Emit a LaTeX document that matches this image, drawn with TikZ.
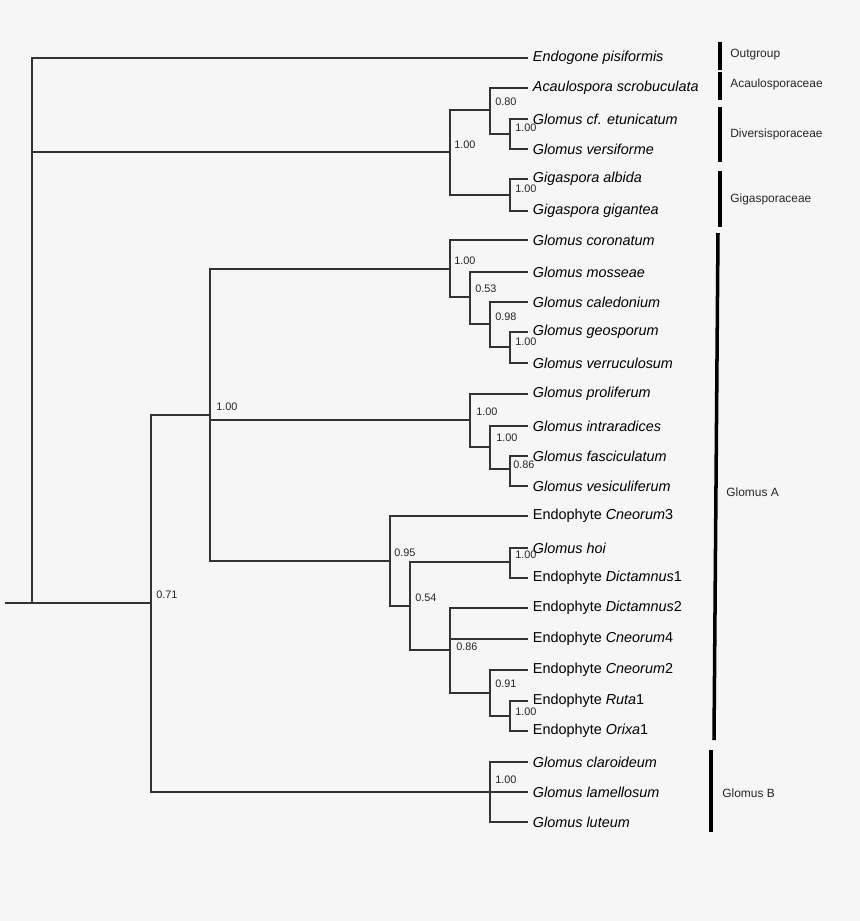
\documentclass[tikz,border=0pt]{standalone}
\usepackage{fontspec}
\setmainfont{Liberation Sans}
\usetikzlibrary{positioning}
\tikzset{
    leaf/.style = {anchor=west, inner ysep=1pt, inner xsep=2.6pt, font=\fontsize{8.2}{9}\selectfont\itshape, text=black},
    leafe/.style = {anchor=west, inner ysep=1pt, inner xsep=2.6pt, font=\fontsize{8.2}{9}\selectfont, text=black},
    supp/.style = {anchor=west, inner sep=0pt, font=\fontsize{6.2}{7}\selectfont, text=black!85},
    clade/.style = {anchor=west, inner sep=0pt, font=\fontsize{6.8}{8}\selectfont, text=black!85},
    branch/.style = {-, line width=0.75pt, black!80},
    bar/.style = {-, line width=2pt, black},
}
\newcommand{\I}[1]{\textit{#1}}

\begin{document}
\begin{tikzpicture}[x=0.02cm, y=-0.02cm]
\fill[gray!7] (0,0) rectangle (860,921);
\useasboundingbox (0,0) rectangle (860,921);

% leaves
\node[leaf] at (528, 58) (endo) {Endogone pisiformis};
\node[leaf] at (528, 88) (acau) {Acaulospora scrobuculata};
\node[leaf] at (528,119) (etun) {Glomus cf. etunicatum};
\node[leaf] at (528,149) (vers) {Glomus versiforme};
\node[leaf] at (528,179) (galb) {Gigaspora albida};
\node[leaf] at (528,211) (ggig) {Gigaspora gigantea};
\node[leaf] at (528,240) (coro) {Glomus coronatum};
\node[leaf] at (528,272) (moss) {Glomus mosseae};
\node[leaf] at (528,302) (cale) {Glomus caledonium};
\node[leaf] at (528,332) (geos) {Glomus geosporum};
\node[leaf] at (528,363) (verr) {Glomus verruculosum};
\node[leaf] at (528,394) (prol) {Glomus proliferum};
\node[leaf] at (528,426) (intr) {Glomus intraradices};
\node[leaf] at (528,456) (fasc) {Glomus fasciculatum};
\node[leaf] at (528,486) (vesi) {Glomus vesiculiferum};
\node[leafe] at (528,516) (cne3) {Endophyte \I{Cneorum}3};
\node[leaf] at (528,548) (hoi) {Glomus hoi};
\node[leafe] at (528,578) (dic1) {Endophyte \I{Dictamnus}1};
\node[leafe] at (528,608) (dic2) {Endophyte \I{Dictamnus}2};
\node[leafe] at (528,639) (cne4) {Endophyte \I{Cneorum}4};
\node[leafe] at (528,670) (cne2) {Endophyte \I{Cneorum}2};
\node[leafe] at (528,701) (ruta) {Endophyte \I{Ruta}1};
\node[leafe] at (528,731) (orix) {Endophyte \I{Orixa}1};
\node[leaf] at (528,762) (clar) {Glomus claroideum};
\node[leaf] at (528,792) (lame) {Glomus lamellosum};
\node[leaf] at (528,822) (lute) {Glomus luteum};

% internal nodes
\coordinate (stem) at (5,603);
\coordinate (root) at (32,603);
\coordinate (aml) at (450,152);
\coordinate (acd) at (490,110);
\coordinate (dvs) at (510,134);
\coordinate (gig) at (510,195);
\coordinate (glo) at (151,603);
\coordinate (gla) at (210,415);
\coordinate (mos) at (450,269);
\coordinate (m53) at (470,297);
\coordinate (m98) at (490,324);
\coordinate (geo) at (510,347);
\coordinate (pro) at (470,420);
\coordinate (int) at (490,447);
\coordinate (fas) at (510,469);
\coordinate (n95) at (390,561);
\coordinate (n54) at (410,606);
\coordinate (hoin) at (510,562);
\coordinate (n86) at (450,650);
\coordinate (n91) at (490,693);
\coordinate (rut) at (510,716);
\coordinate (glb) at (490,792);

% branches
\draw[branch] (stem) -- (root);
\draw[branch] (root) |- (endo.west);
\draw[branch] (root) |- (aml);
\draw[branch] (root) |- (glo);
\draw[branch] (aml) |- (acd);
\draw[branch] (aml) |- (gig);
\draw[branch] (acd) |- (acau.west);
\draw[branch] (acd) |- (dvs);
\draw[branch] (dvs) |- (etun.west);
\draw[branch] (dvs) |- (vers.west);
\draw[branch] (gig) |- (galb.west);
\draw[branch] (gig) |- (ggig.west);
\draw[branch] (glo) |- (gla);
\draw[branch] (glo) |- (glb);
\draw[branch] (gla) |- (mos);
\draw[branch] (gla) |- (pro);
\draw[branch] (gla) |- (n95);
\draw[branch] (mos) |- (coro.west);
\draw[branch] (mos) |- (m53);
\draw[branch] (m53) |- (moss.west);
\draw[branch] (m53) |- (m98);
\draw[branch] (m98) |- (cale.west);
\draw[branch] (m98) |- (geo);
\draw[branch] (geo) |- (geos.west);
\draw[branch] (geo) |- (verr.west);
\draw[branch] (pro) |- (prol.west);
\draw[branch] (pro) |- (int);
\draw[branch] (int) |- (intr.west);
\draw[branch] (int) |- (fas);
\draw[branch] (fas) |- (fasc.west);
\draw[branch] (fas) |- (vesi.west);
\draw[branch] (n95) |- (cne3.west);
\draw[branch] (n95) |- (n54);
\draw[branch] (n54) |- (hoin);
\draw[branch] (n54) |- (n86);
\draw[branch] (hoin) |- (hoi.west);
\draw[branch] (hoin) |- (dic1.west);
\draw[branch] (n86) |- (dic2.west);
\draw[branch] (n86) |- (cne4.west);
\draw[branch] (n86) |- (n91);
\draw[branch] (n91) |- (cne2.west);
\draw[branch] (n91) |- (rut);
\draw[branch] (rut) |- (ruta.west);
\draw[branch] (rut) |- (orix.west);
\draw[branch] (glb) |- (clar.west);
\draw[branch] (glb) |- (lame.west);
\draw[branch] (glb) |- (lute.west);

% support values
\node[supp] at (454,145) {1.00};
\node[supp] at (495,102) {0.80};
\node[supp] at (515,128) {1.00};
\node[supp] at (515,189) {1.00};
\node[supp] at (454,261) {1.00};
\node[supp] at (475,289) {0.53};
\node[supp] at (495,317) {0.98};
\node[supp] at (515,342) {1.00};
\node[supp] at (216,407) {1.00};
\node[supp] at (476,412) {1.00};
\node[supp] at (496,438) {1.00};
\node[supp] at (513,465) {0.86};
\node[supp] at (394,553) {0.95};
\node[supp] at (515,555) {1.00};
\node[supp] at (415,598) {0.54};
\node[supp] at (456,647) {0.86};
\node[supp] at (495,684) {0.91};
\node[supp] at (515,712) {1.00};
\node[supp] at (495,780) {1.00};
\node[supp] at (156,595) {0.71};

% clades
\coordinate (b1t) at (720,42);  \coordinate (b1b) at (720,70);
\coordinate (b2t) at (720,72);  \coordinate (b2b) at (720,100);
\coordinate (b3t) at (720,107); \coordinate (b3b) at (720,162);
\coordinate (b4t) at (720,171); \coordinate (b4b) at (720,227);
\coordinate (b5t) at (718,233); \coordinate (b5b) at (714,740);
\coordinate (b6t) at (711,750); \coordinate (b6b) at (711,832);
\draw[bar] (b1t) -- (b1b);
\draw[bar] (b2t) -- (b2b);
\draw[bar] (b3t) -- (b3b);
\draw[bar] (b4t) -- (b4b);
\draw[bar] (b5t) -- (b5b);
\draw[bar] (b6t) -- (b6b);
\node[clade] at (730, 55) {Outgroup};
\node[clade] at (730, 84) {Acaulosporaceae};
\node[clade] at (730,134) {Diversisporaceae};
\node[clade] at (730,199) {Gigasporaceae};
\node[clade] at (726,492) {Glomus A};
\node[clade] at (722,793) {Glomus B};
\end{tikzpicture}
\end{document}
